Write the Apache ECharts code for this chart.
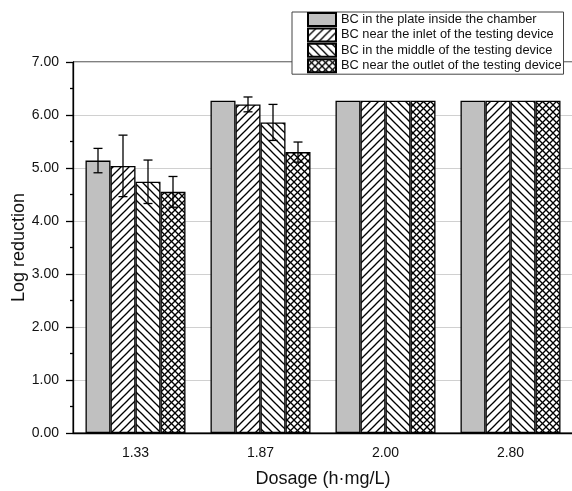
<!DOCTYPE html>
<html><head><meta charset="utf-8">
<script src="https://cdn.jsdelivr.net/npm/echarts@6/dist/echarts.min.js"></script>
<style>html,body{margin:0;padding:0;background:#fff}#c{width:572px;height:491px}</style>
</head><body><div id="c"></div>
<script>
const categories = ['1.33', '1.87', '2.00', '2.80'];
const seriesNames = [
  'BC in the plate inside the chamber',
  'BC near the inlet of the testing device',
  'BC in the middle of the testing device',
  'BC near the outlet of the testing device'
];
const plateValues  = [5.14, 6.27, 6.27, 6.27];
const inletValues  = [5.04, 6.20, 6.27, 6.27];
const middleValues = [4.74, 5.86, 6.27, 6.27];
const outletValues = [4.55, 5.30, 6.27, 6.27];
const plateErr  = [0.23, null, null, null];
const inletErr  = [0.58, 0.14, null, null];
const middleErr = [0.41, 0.34, null, null];
const outletErr = [0.29, 0.19, null, null];
const yTicks = [0, 1, 2, 3, 4, 5, 6, 7];

function hatch(kind, s) {
  const c = document.createElement('canvas');
  c.width = s; c.height = s;
  const g = c.getContext('2d');
  g.fillStyle = '#fff'; g.fillRect(0, 0, s, s);
  g.strokeStyle = '#000'; g.lineWidth = 1.3;
  const seg = (a, b, cc, d) => { g.beginPath(); g.moveTo(a, b); g.lineTo(cc, d); g.stroke(); };
  if (kind.indexOf('/') >= 0) {
    seg(-1, s + 1, s + 1, -1); seg(-1, 1, 1, -1); seg(s - 1, s + 1, s + 1, s - 1);
  }
  if (kind.indexOf('\\') >= 0) {
    seg(-1, -1, s + 1, s + 1); seg(s - 1, -1, s + 1, 1); seg(-1, s - 1, 1, s + 1);
  }
  return { image: c, repeat: 'repeat' };
}
const fills = ['#c0c0c0', hatch('/', 8), hatch('\\', 8), hatch('/\\', 7)];
const values = [plateValues, inletValues, middleValues, outletValues];
const errs = [plateErr, inletErr, middleErr, outletErr];

const chart = echarts.init(document.getElementById('c'), null, { renderer: 'canvas' });
const font = 'Liberation Sans, Arial, sans-serif';

const barSeries = values.map((vals, i) => ({
  name: seriesNames[i], type: 'bar', data: vals,
  barWidth: 25, barGap: '0%', barCategoryGap: '20%',
  itemStyle: { color: fills[i], borderColor: '#000', borderWidth: 1.3 },
  emphasis: { disabled: true }
}));

const errSeries = values.map((vals, i) => ({
  type: 'custom', z: 10, silent: true,
  data: vals.map((v, k) => [k, v, errs[i][k]]).filter(d => d[2] != null),
  renderItem: function (params, api) {
    const ci = api.value(0), v = api.value(1), e = api.value(2);
    const band = api.size([1, 0])[0];
    const bw = band * 0.8 / 4;
    const cx = api.coord([ci, v])[0] + (i - 1.5) * bw;
    const yt = api.coord([ci, v + e])[1];
    const yb = api.coord([ci, v - e])[1];
    const st = { stroke: '#000', lineWidth: 1.3 };
    return { type: 'group', children: [
      { type: 'line', shape: { x1: cx, y1: yt, x2: cx, y2: yb }, style: st },
      { type: 'line', shape: { x1: cx - 4.5, y1: yt, x2: cx + 4.5, y2: yt }, style: st },
      { type: 'line', shape: { x1: cx - 4.5, y1: yb, x2: cx + 4.5, y2: yb }, style: st }
    ]};
  }
}));

chart.setOption({
  animation: false,
  textStyle: { fontFamily: font },
  grid: { left: 73, right: -1, top: 62, bottom: 58, show: true, borderColor: '#000', borderWidth: 1,
          containLabel: false, outerBoundsMode: 'none' },
  legend: {
    data: seriesNames, orient: 'vertical', left: 292, top: 12,
    icon: 'rect', itemWidth: 28, itemHeight: 13, itemGap: 0.4,
    padding: [0, 2, 1, 15],
    backgroundColor: '#fff', borderColor: '#444', borderWidth: 1,
    textStyle: { fontSize: 12.8, lineHeight: 14, color: '#111', fontFamily: font },
    selectedMode: false
  },
  xAxis: [{
    type: 'category', data: categories,
    name: 'Dosage (h·mg/L)', nameLocation: 'middle', nameGap: 37,
    nameTextStyle: { fontSize: 18, color: '#111', fontFamily: font },
    axisLine: { lineStyle: { color: '#000', width: 1.3 } },
    axisTick: { alignWithLabel: true, length: 6, lineStyle: { color: '#000', width: 1.3 } },
    axisLabel: { fontSize: 14, color: '#111', margin: 13, fontFamily: font }
  }, {
    type: 'category', data: categories, position: 'bottom',
    axisLine: { show: false },
    axisTick: { length: 3, lineStyle: { color: '#000', width: 1.3 } },
    axisLabel: { show: false }
  }],
  yAxis: {
    type: 'value', min: yTicks[0], max: yTicks[yTicks.length - 1], interval: 1,
    name: 'Log reduction', nameLocation: 'middle', nameGap: 45, nameMoveOverlap: false,
    nameTextStyle: { fontSize: 18, color: '#111', fontFamily: font },
    axisLine: { show: true, lineStyle: { color: '#000', width: 1.3 } },
    axisTick: { show: true, length: 7, lineStyle: { color: '#000', width: 1.3 } },
    minorTick: { show: true, splitNumber: 2, length: 3, lineStyle: { color: '#000', width: 1.3 } },
    splitLine: { lineStyle: { color: '#d0d0d0', width: 1 } },
    axisLabel: { fontSize: 14, color: '#111', margin: 14, fontFamily: font, formatter: v => v.toFixed(2) }
  },
  series: barSeries.concat(errSeries)
});
</script></body></html>
